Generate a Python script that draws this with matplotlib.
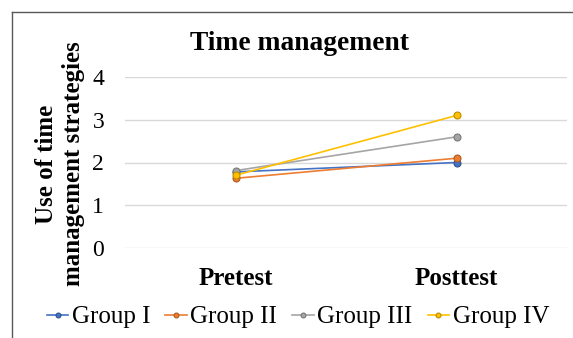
import matplotlib
matplotlib.use("Agg")
import matplotlib.pyplot as plt
from matplotlib.lines import Line2D

plt.rcParams['font.family'] = ['Liberation Serif', 'DejaVu Serif']

phases = ['Pretest', 'Posttest']
groups = ['Group I', 'Group II', 'Group III', 'Group IV']
group1 = [1.78, 2.00]
group2 = [1.63, 2.10]
group3 = [1.81, 2.60]
group4 = [1.70, 3.10]
series = [group1, group2, group3, group4]
colors = ['#4472C4', '#ED7D31', '#A5A5A5', '#FFC000']
edges = ['#2F528F', '#AE5A21', '#787878', '#BC8C00']
yticks = [0, 1, 2, 3, 4]

fig = plt.figure(figsize=(5.73, 3.38), dpi=100)
ax = fig.add_axes([125 / 573, 1 - 248 / 338, (567 - 125) / 573, (248 - 77) / 338])

x = range(len(phases))
for vals, name, c, ec in zip(series, groups, colors, edges):
    ax.plot(x, vals, color=c, lw=1.2, marker='o', ms=5, mfc=c, mec=ec,
            mew=0.8, label=name, zorder=3)

ax.set_xlim(-0.5, 1.5)
ax.set_ylim(0, 4)
ax.set_yticks(yticks)
ax.set_xticks(list(x))
ax.set_xticklabels(phases, fontweight='bold', fontsize=18)
ax.tick_params(axis='y', length=0, pad=15, labelsize=17)
ax.tick_params(axis='x', length=0, pad=14)
ax.grid(axis='y', color='#D9D9D9', lw=1)
ax.set_axisbelow(True)
for s in ax.spines.values():
    s.set_visible(False)

# outer chart frame (top and left visible)
fig.add_artist(Line2D([12 / 573, 12 / 573], [0, 1 - 12 / 338], transform=fig.transFigure,
                      color='#595959', lw=1))
fig.add_artist(Line2D([12 / 573, 1], [1 - 12 / 338, 1 - 12 / 338], transform=fig.transFigure,
                      color='#595959', lw=1))

fig.text(299 / 573, 1 - 50 / 338, 'Time management', ha='center', va='baseline',
         fontsize=19.8, fontweight='bold')
fig.text(60 / 573, 1 - 164 / 338, 'Use of time\nmanagement strategies', rotation=90,
         ha='center', va='center', multialignment='center', fontsize=18,
         fontweight='bold', linespacing=1.25)

fig.legend(loc='center', bbox_to_anchor=(298 / 573, 1 - 317 / 338), ncol=4, frameon=False,
           fontsize=18, handlelength=0.85, handletextpad=0.15, columnspacing=0.6,
           markerscale=0.7, borderpad=0)

fig.savefig('out.png', dpi=100)
